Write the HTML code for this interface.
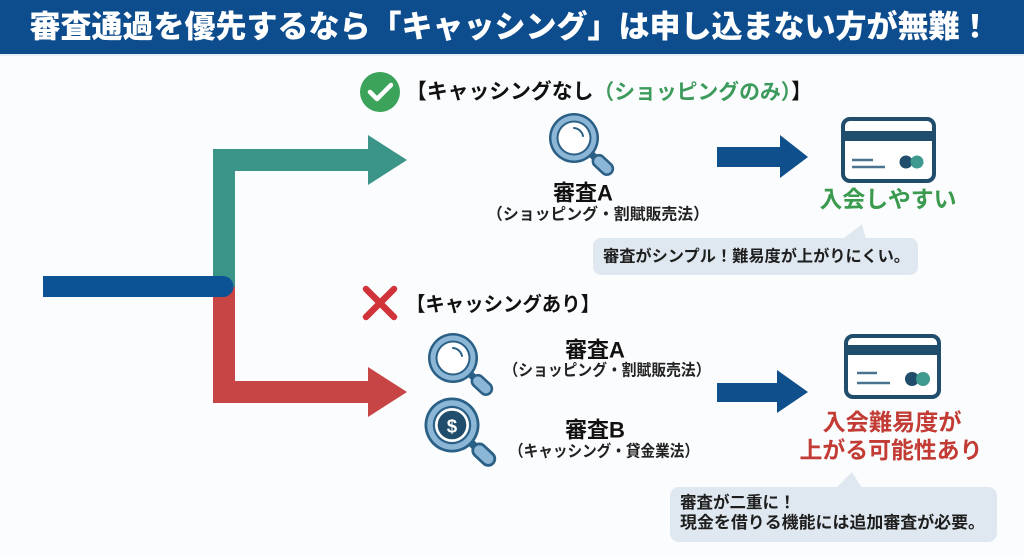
<!DOCTYPE html>
<html><head><meta charset="utf-8">
<style>
html,body{margin:0;padding:0;width:1024px;height:559px;overflow:hidden;background:#fbfcfd;}
svg{display:block;}
text{font-family:"Liberation Sans","Noto Sans CJK JP",sans-serif;}
</style></head>
<body>
<svg width="1024" height="559" viewBox="0 0 1024 559" xmlns="http://www.w3.org/2000/svg">
<defs>
  <g id="mag">
    <g transform="rotate(43)">
      <rect x="22" y="-3.5" width="9" height="7" fill="#2a5f86"/>
      <rect x="28" y="-6" width="23" height="12" rx="6" fill="#8cb6d6" stroke="#2a5f86" stroke-width="2.5"/>
    </g>
    <circle r="25" fill="#2a5f86"/>
    <circle r="22.5" fill="#8cb6d6"/>
    <circle r="17.5" fill="#2a5f86"/>
    <circle r="15.5" fill="#ffffff"/>
    <path d="M0,-10 A10,10 0 0 1 9,-2" fill="none" stroke="#2a5f86" stroke-width="2" stroke-linecap="round"/>
  </g>
</defs>

<!-- header -->
<rect x="0" y="0" width="1024" height="54" fill="#0d4d8e"/>
<rect x="0" y="54" width="1024" height="2" fill="#e9eef3"/>
<text x="510" y="27" text-anchor="middle" dominant-baseline="central" font-size="31" font-weight="900" fill="#ffffff" textLength="961" lengthAdjust="spacingAndGlyphs">審査通過を優先するなら「キャッシング」は申し込まない方が無難！</text>

<!-- branching arrows -->
<path d="M213,287 V149 H368 V135 L407,160 L368,185 V171 H235 V287 Z" fill="#3a9488"/>
<path d="M213,287 V403 H368 V417 L407,392 L368,367 V381 H235 V287 Z" fill="#c84545"/>
<path d="M43,276 H223 A10.5,10.5 0 0 1 223,297 H43 Z" fill="#0b5394"/>

<!-- top heading -->
<circle cx="380" cy="92" r="20" fill="#3ca35a"/>
<path d="M370,92 L377,99 L391,85" fill="none" stroke="#ffffff" stroke-width="4.5" stroke-linecap="round" stroke-linejoin="round"/>
<text x="406" y="92" dominant-baseline="central" font-size="21" font-weight="700" fill="#111" textLength="406" lengthAdjust="spacingAndGlyphs">【キャッシングなし<tspan fill="#3c9a5c">（ショッピングのみ）</tspan>】</text>

<!-- top magnifier -->
<use href="#mag" transform="translate(574,138)"/>
<text x="583" y="193" text-anchor="middle" dominant-baseline="central" font-size="22" font-weight="700" fill="#111">審査A</text>
<text x="598" y="215" text-anchor="middle" dominant-baseline="central" font-size="16" font-weight="700" fill="#222" textLength="222" lengthAdjust="spacingAndGlyphs">（ショッピング・割賦販売法）</text>

<!-- top blue arrow -->
<path d="M717,147 H780 V135 L808,157 L780,178 V167 H717 Z" fill="#0e4f8c"/>

<!-- top card -->
<rect x="843" y="119" width="91" height="62" rx="7" fill="#ffffff" stroke="#1f4d6b" stroke-width="4"/>
<rect x="843" y="131" width="91" height="10" fill="#1f4d6b"/>
<line x1="852" y1="160" x2="873" y2="160" stroke="#4a7390" stroke-width="2.5"/>
<line x1="852" y1="167" x2="885" y2="167" stroke="#4a7390" stroke-width="2.5"/>
<circle cx="906" cy="162" r="6.5" fill="#1f4d6b"/>
<circle cx="917" cy="162" r="6.5" fill="#3e9a8e"/>

<text x="888" y="199" text-anchor="middle" dominant-baseline="central" font-size="23" font-weight="700" fill="#3a9a4e" textLength="137" lengthAdjust="spacingAndGlyphs">入会しやすい</text>

<!-- top bubble -->
<path d="M843,239 L862,224 L866,239 Z" fill="#dfe8f0"/>
<rect x="593" y="238" width="325" height="37" rx="8" fill="#dfe8f0"/>
<text x="603" y="257" dominant-baseline="central" font-size="16" font-weight="700" fill="#1e1e1e" textLength="307" lengthAdjust="spacingAndGlyphs">審査がシンプル！難易度が上がりにくい。</text>

<!-- bottom heading -->
<path d="M366,289 L394,317 M394,289 L366,317" stroke="#d0343a" stroke-width="6.5" stroke-linecap="round"/>
<text x="406" y="305" dominant-baseline="central" font-size="20" font-weight="700" fill="#111" textLength="194" lengthAdjust="spacingAndGlyphs">【キャッシングあり】</text>

<!-- bottom magnifiers -->
<use href="#mag" transform="translate(453,358)"/>
<g transform="translate(452,425) scale(1.1)">
  <g transform="rotate(43)">
    <rect x="22" y="-3.5" width="9" height="7" fill="#2a5f86"/>
    <rect x="28" y="-6" width="23" height="12" rx="6" fill="#8cb6d6" stroke="#2a5f86" stroke-width="2.5"/>
  </g>
  <circle r="25" fill="#2a5f86"/>
  <circle r="22.5" fill="#8cb6d6"/>
  <circle r="17.5" fill="#2a5f86"/>
  <circle r="15.5" fill="#ffffff"/>
  <circle r="13" fill="#1f4d6b"/>
  <text x="0" y="1" text-anchor="middle" dominant-baseline="central" font-size="17" font-weight="700" fill="#ffffff">$</text>
</g>

<text x="595" y="350" text-anchor="middle" dominant-baseline="central" font-size="22" font-weight="700" fill="#111">審査A</text>
<text x="607" y="371" text-anchor="middle" dominant-baseline="central" font-size="16" font-weight="700" fill="#222" textLength="207" lengthAdjust="spacingAndGlyphs">（ショッピング・割賦販売法）</text>
<text x="595" y="430" text-anchor="middle" dominant-baseline="central" font-size="22" font-weight="700" fill="#111">審査B</text>
<text x="604" y="452" text-anchor="middle" dominant-baseline="central" font-size="16" font-weight="700" fill="#222" textLength="190" lengthAdjust="spacingAndGlyphs">（キャッシング・貸金業法）</text>

<!-- bottom blue arrow -->
<path d="M717,383 H777 V370 L808,392 L777,413 V402 H717 Z" fill="#0e4f8c"/>

<!-- bottom card -->
<rect x="846" y="336" width="93" height="61" rx="7" fill="#ffffff" stroke="#1f4d6b" stroke-width="4"/>
<rect x="846" y="345" width="93" height="10" fill="#1f4d6b"/>
<line x1="857" y1="373" x2="877" y2="373" stroke="#4a7390" stroke-width="2.5"/>
<line x1="857" y1="383" x2="890" y2="383" stroke="#4a7390" stroke-width="2.5"/>
<circle cx="912" cy="379" r="7" fill="#1f4d6b"/>
<circle cx="923" cy="379" r="7" fill="#3e9a8e"/>

<text x="892" y="422" text-anchor="middle" dominant-baseline="central" font-size="23" font-weight="700" fill="#c23b34" textLength="139" lengthAdjust="spacingAndGlyphs">入会難易度が</text>
<text x="891" y="450" text-anchor="middle" dominant-baseline="central" font-size="23" font-weight="700" fill="#c23b34" textLength="183" lengthAdjust="spacingAndGlyphs">上がる可能性あり</text>

<!-- bottom bubble -->
<path d="M836,488 L852,472 L862,488 Z" fill="#dfe8f0"/>
<rect x="670" y="487" width="327" height="55" rx="9" fill="#dfe8f0"/>
<text x="680" y="503" dominant-baseline="central" font-size="16.5" font-weight="700" fill="#1e1e1e">審査が二重に！</text>
<text x="680" y="523" dominant-baseline="central" font-size="16.5" font-weight="700" fill="#1e1e1e" textLength="305" lengthAdjust="spacingAndGlyphs">現金を借りる機能には追加審査が必要。</text>
</svg>
</body></html>
